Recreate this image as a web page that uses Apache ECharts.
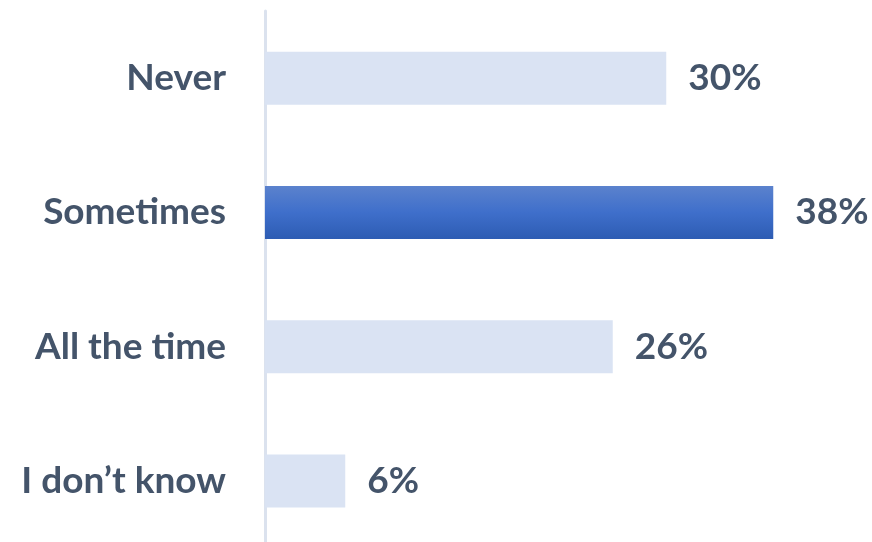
<!DOCTYPE html>
<html>
<head>
<meta charset="utf-8">
<script src="https://cdn.jsdelivr.net/npm/echarts@6/dist/echarts.min.js"></script>
<style>
  html, body { margin: 0; padding: 0; background: #fff; overflow: hidden; }
  #chart { width: 872px; height: 560px; }
</style>
</head>
<body>
<div id="chart"></div>
<script>
// Survey answers, top to bottom
const categories = ['Never', 'Sometimes', 'All the time', 'I don\u2019t know'];
const values = [30, 38, 26, 6];
const highlighted = 'Sometimes';

const textColor = '#44546a';
const fontFamily = 'Lato, "Open Sans", sans-serif';

const chart = echarts.init(document.getElementById('chart'), null, { renderer: 'canvas' });

const highlightFill = new echarts.graphic.LinearGradient(0, 0, 0, 1, [
  { offset: 0, color: '#5b82cd' },
  { offset: 0.5, color: '#3f6fcb' },
  { offset: 1, color: '#2d5cb3' }
]);

chart.setOption({
  animation: false,
  grid: { left: 265, right: 72, top: 11, height: 537, containLabel: false },
  xAxis: {
    type: 'value',
    min: 0,
    max: 40,
    show: false
  },
  yAxis: {
    type: 'category',
    data: categories,
    inverse: true,
    axisLine: { show: true, lineStyle: { color: '#dbe2ee', width: 3 } },
    axisTick: { show: false },
    axisLabel: {
      margin: 39,
      color: textColor,
      fontFamily: fontFamily,
      fontWeight: 'bold',
      fontSize: 37
    }
  },
  series: [{
    type: 'bar',
    barWidth: 53,
    data: values.map((v, i) => ({
      value: v,
      itemStyle: { color: categories[i] === highlighted ? highlightFill : '#dae3f3' }
    })),
    label: {
      show: true,
      position: 'right',
      distance: 22,
      formatter: p => p.value + '%',
      color: textColor,
      fontFamily: fontFamily,
      fontWeight: 'bold',
      fontSize: 37
    }
  }]
});
</script>
</body>
</html>
